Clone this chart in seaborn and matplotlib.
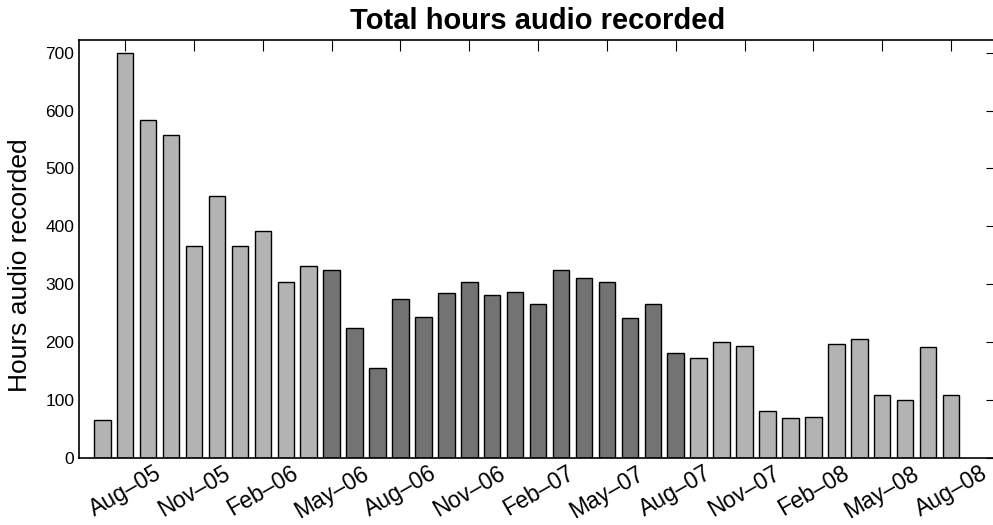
import matplotlib
matplotlib.use("Agg")
import matplotlib.pyplot as plt
import matplotlib.transforms as mtransforms
import numpy as np
import pandas as pd
import seaborn as sns

# Monthly recording totals, Jul 2005 - Aug 2008
months = [
    "Jul-05", "Aug-05", "Sep-05", "Oct-05", "Nov-05", "Dec-05",
    "Jan-06", "Feb-06", "Mar-06", "Apr-06", "May-06", "Jun-06",
    "Jul-06", "Aug-06", "Sep-06", "Oct-06", "Nov-06", "Dec-06",
    "Jan-07", "Feb-07", "Mar-07", "Apr-07", "May-07", "Jun-07",
    "Jul-07", "Aug-07", "Sep-07", "Oct-07", "Nov-07", "Dec-07",
    "Jan-08", "Feb-08", "Mar-08", "Apr-08", "May-08", "Jun-08",
    "Jul-08", "Aug-08",
]
hours = [
    65, 700, 584, 557, 366, 453,
    366, 391, 303, 331, 325, 225,
    156, 275, 244, 284, 303, 281,
    287, 265, 325, 310, 303, 241,
    265, 181, 172, 200, 194, 81,
    69, 71, 197, 206, 109, 100,
    191, 109,
]
# middle stretch of the series is drawn darker
period = ["early"] * 10 + ["middle"] * 16 + ["late"] * 12

tick_labels = [
    "Aug–05", "Nov–05", "Feb–06", "May–06", "Aug–06", "Nov–06", "Feb–07",
    "May–07", "Aug–07", "Nov–07", "Feb–08", "May–08", "Aug–08",
]

df = pd.DataFrame({"month": months, "hours": hours, "period": period})

sns.set_style("white")
plt.rcParams["font.family"] = ["Liberation Sans", "DejaVu Sans"]
plt.rcParams.update({
    "text.color": "black", "axes.labelcolor": "black",
    "xtick.color": "black", "ytick.color": "black",
})

fig = plt.figure(figsize=(9.93, 5.25), dpi=100)
ax = fig.add_axes([0.0799, 0.128, 0.924, 0.796])

sns.barplot(
    data=df, x="month", y="hours", hue="period",
    palette={"early": "#b3b3b3", "middle": "#737373", "late": "#b3b3b3"},
    dodge=False, width=0.72, edgecolor="black", linewidth=1.0,
    saturation=1, legend=False, ax=ax,
)

ax.set_xlim(-1, 39)
ax.set_ylim(0, 722)
ax.set_yticks(np.arange(0, 701, 100))
ax.set_xticks(np.arange(1, len(months), 3))
ax.set_xticklabels(tick_labels, rotation=30, ha="center", fontsize=16.5)
shift = mtransforms.ScaledTranslation(-12 / 100, 0, fig.dpi_scale_trans)
for lbl in ax.get_xticklabels():
    lbl.set_transform(lbl.get_transform() + shift)

ax.tick_params(axis="both", direction="in", length=8, width=0.8,
               top=True, right=True, labelsize=12.5)
ax.tick_params(axis="x", labelsize=16.5, pad=3)
for s in ax.spines.values():
    s.set_color("black")
    s.set_linewidth(1.2)

ax.set_xlabel("")
ax.set_ylabel("Hours audio recorded", fontsize=19)
ax.yaxis.set_label_coords(-0.052, 0.46)
ax.set_title("Total hours audio recorded", fontsize=21, fontweight="bold", pad=8)

fig.savefig("out.png", dpi=100)
